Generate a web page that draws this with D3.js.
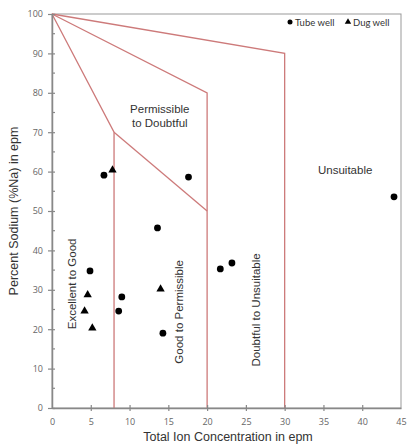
<!DOCTYPE html>
<html><head><meta charset="utf-8">
<script src="https://cdn.jsdelivr.net/npm/d3@7/dist/d3.min.js"></script>
<style>body{margin:0;background:#fff}svg{display:block}</style>
</head><body><svg id="c" width="408" height="445"></svg>
<script>
const tubeX = [6.7, 4.9, 9.0, 8.6, 17.6, 13.6, 21.7, 23.2, 14.3, 44.1];
const tubeY = [59.1, 34.8, 28.2, 24.6, 58.6, 45.7, 35.3, 36.8, 19.0, 53.6];
const dugX = [7.8, 4.6, 4.2, 5.2, 14.0];
const dugY = [60.4, 28.7, 24.6, 20.3, 30.2];
const xTicks = [0,5,10,15,20,25,30,35,40,45];
const yTicks = [0,10,20,30,40,50,60,70,80,90,100];
const yMinor = [5,15,25,35,45,55,65,75,85,95];
// boundary polylines (x in epm, y in %Na)
const boundaries = [
  [[0,100],[8,70],[8,0]],
  [[8,70],[20,50]],
  [[0,100],[20,80],[20,0]],
  [[0,100],[30,90],[30,0]]
];
const zoneLabels = [
  {t:["Permissible","to Doubtful"], x:13.9, y:74, rot:false},
  {t:["Unsuitable"], x:37.8, y:60.4, rot:false},
  {t:["Excellent to Good"], x:2.6, y:31.5, rot:true},
  {t:["Good to Permissible"], x:16.4, y:24.4, rot:true},
  {t:["Doubtful to Unsuitable"], x:26.3, y:24.9, rot:true}
];

const svg = d3.select("#c");
const x = d3.scaleLinear().domain([0,45]).range([52,401]);
const y = d3.scaleLinear().domain([0,100]).range([408,14]);
const axisCol = "#888";
const redCol = "#cd7a7a";

// plot border
svg.append("rect").attr("x",x(0)).attr("y",y(100)).attr("width",x(45)-x(0)).attr("height",y(0)-y(100))
  .attr("fill","none").attr("stroke","#999").attr("stroke-width",1);

// boundaries
const line = d3.line().x(d=>x(d[0])).y(d=>y(d[1]));
boundaries.forEach(b=>svg.append("path").attr("d",line(b)).attr("fill","none")
  .attr("stroke",redCol).attr("stroke-width",1.3));

// axes
const xAxis = svg.append("g").attr("transform",`translate(0,${y(0)})`)
  .call(d3.axisBottom(x).tickValues(xTicks).tickSize(0).tickPadding(11));
xAxis.select(".domain").attr("stroke",axisCol).attr("stroke-width",1.5);
xAxis.selectAll(".tick").filter(d=>d>0 && d<45).append("line").attr("y1",-3).attr("y2",3).attr("stroke",axisCol).attr("stroke-width",1.2);
const yAxis = svg.append("g").attr("transform",`translate(${x(0)},0)`)
  .call(d3.axisLeft(y).tickValues(yTicks).tickSize(0).tickPadding(9));
yAxis.select(".domain").attr("stroke",axisCol).attr("stroke-width",1.5);
yAxis.selectAll(".tick").append("line").attr("x1",-4).attr("x2",3).attr("stroke",axisCol).attr("stroke-width",1.2);
yAxis.selectAll(".minor").data(yMinor).enter().append("line").attr("class","minor")
  .attr("x1",0).attr("x2",3).attr("y1",d=>y(d)).attr("y2",d=>y(d)).attr("stroke",axisCol).attr("stroke-width",1.2);
svg.selectAll(".tick text").attr("fill","#666").attr("font-family","'Open Sans', Lato, sans-serif").attr("font-size",9);

// axis titles
svg.append("text").attr("x",228).attr("y",441).attr("text-anchor","middle")
  .attr("font-family","'Liberation Sans', Arial, sans-serif").attr("font-size",12.5).attr("fill","#333")
  .text("Total Ion Concentration in epm");
svg.append("text").attr("transform",`translate(18,${211}) rotate(-90)`).attr("text-anchor","middle")
  .attr("font-family","'Liberation Sans', Arial, sans-serif").attr("font-size",12.5).attr("fill","#333")
  .text("Percent Sodium (%Na) in epm");

// zone labels
zoneLabels.forEach(z=>{
  const g = svg.append("g").attr("transform", z.rot ? `translate(${x(z.x)},${y(z.y)}) rotate(-90)` : `translate(${x(z.x)},${y(z.y)})`);
  z.t.forEach((s,i)=>g.append("text").attr("x",0).attr("y",i*14 - (z.t.length-1)*7 + 4)
    .attr("text-anchor","middle").attr("font-family","'Liberation Sans', Arial, sans-serif")
    .attr("font-size",11.5).attr("fill","#333").text(s));
});

// points
svg.selectAll(".tube").data(tubeX.map((d,i)=>[d,tubeY[i]])).enter().append("circle")
  .attr("cx",d=>x(d[0])).attr("cy",d=>y(d[1])).attr("r",3.4).attr("fill","#000");
const tri = d3.symbol().type(d3.symbolTriangle).size(30);
svg.selectAll(".dug").data(dugX.map((d,i)=>[d,dugY[i]])).enter().append("path")
  .attr("d",tri).attr("transform",d=>`translate(${x(d[0])},${y(d[1])})`).attr("fill","#000");

// legend
const lg = svg.append("g").attr("font-family","Lato, 'Open Sans', sans-serif").attr("font-size",9.5).attr("fill","#333");
lg.append("circle").attr("cx",290).attr("cy",22).attr("r",2.5).attr("fill","#000");
lg.append("text").attr("x",295).attr("y",25.5).text("Tube well");
lg.append("path").attr("d",d3.symbol().type(d3.symbolTriangle).size(18)).attr("transform","translate(348,22)").attr("fill","#000");
lg.append("text").attr("x",353).attr("y",25.5).text("Dug well");
</script></body></html>
